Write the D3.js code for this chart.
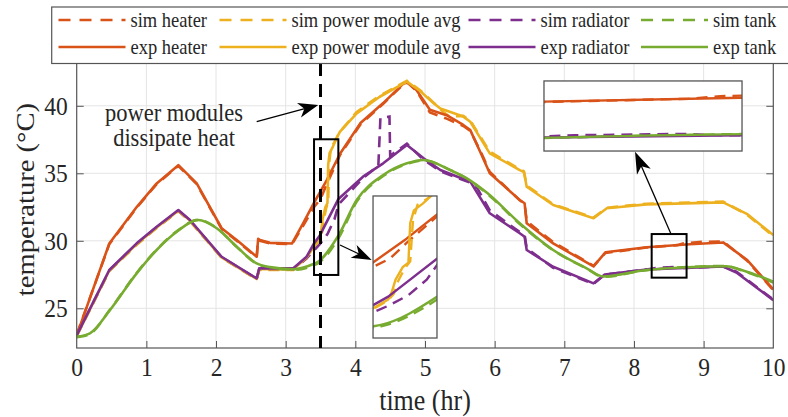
<!DOCTYPE html>
<html><head><meta charset="utf-8">
<script src="https://cdn.jsdelivr.net/npm/d3@7"></script>
<style>
body{margin:0;background:#fff}
svg{display:block}
text{font-family:"Liberation Serif","Times New Roman",serif;fill:#262626}
</style></head>
<body><svg id="c" width="788" height="417"></svg>
<script>
// ---------- data ----------
const xTickVals=[0,1,2,3,4,5,6,7,8,9,10];
const yTickVals=[25,30,35,40];
const xDomain=[0,10];
const yDomain=[22.06,43.17];
const legendLabels=["sim heater","sim power module avg","sim radiator","sim tank","exp heater","exp power module avg","exp radiator","exp tank"];
const seriesKeys=["heater","power","radiator","tank"];
const seriesColors=["#D95319","#EDB120","#7E2F8E","#77AC30"];

const expHeater=[[0,23.0],[0.468,29.8],[0.861,32.5],[1.148,34.25],[1.459,35.6],[1.723,34.25],[2.08,30.93],[2.297,30.06],[2.584,28.82],[2.605,30.15],[2.631,30.05],[2.775,29.85],[3.09,29.8],[3.25,31.3],[3.4,32.75],[3.59,34.5],[3.78,36.45],[4.07,38.7],[4.4,40.2],[4.69,41.64],[4.75,41.75],[4.88,41.15],[5.07,39.7],[5.31,39.3],[5.55,38.58],[5.65,38.2],[5.8,36.5],[5.93,35.0],[6.36,33.02],[6.43,32.78],[6.46,31.3],[6.84,29.81],[7.42,28.1],[7.59,29.15],[8.18,29.52],[8.8,29.74],[9.28,29.88],[9.62,28.6],[10,26.4]];
const expPower=[[0,22.95],[0.468,27.8],[0.861,29.76],[1.148,30.99],[1.459,32.23],[1.626,31.5],[2.08,28.77],[2.584,27.17],[2.62,27.9],[3.11,27.9],[3.3,28.76],[3.49,30.2],[3.51,30.75],[3.53,31.6],[3.57,32.5],[3.6,32.8],[3.61,35.6],[3.63,36.5],[3.68,37.0],[3.73,37.6],[3.78,38.08],[4.02,39.44],[4.35,40.67],[4.74,41.79],[4.93,41.1],[5.12,40.2],[5.22,39.8],[5.55,39.2],[5.65,38.82],[5.93,36.48],[6.36,35.24],[6.42,35.1],[6.46,34.0],[6.84,32.65],[7.42,31.67],[7.61,32.41],[8.18,32.7],[9.28,32.85],[9.62,32.0],[10,30.43]];
const expRadiator=[[0,23.0],[0.468,27.84],[0.861,29.81],[1.148,31.04],[1.459,32.28],[1.626,31.54],[2.08,28.82],[2.584,27.22],[2.62,27.96],[3.11,27.96],[3.3,28.82],[3.407,29.8],[3.49,30.4],[3.758,33.1],[4.11,34.75],[4.4,35.74],[4.74,37.1],[4.98,36.11],[5.22,35.24],[5.65,34.38],[5.93,32.04],[6.36,30.56],[6.43,30.3],[6.46,29.32],[6.84,28.08],[7.42,26.85],[7.58,27.5],[8.18,27.88],[9.28,28.1],[9.47,27.65],[10,25.6]];
const expTank=[[0,22.9],[0.19,23.15],[0.478,24.87],[0.861,27.59],[1.148,29.32],[1.436,30.67],[1.746,31.54],[2.01,30.93],[2.297,29.56],[2.584,28.33],[2.775,28.05],[3.11,27.89],[3.407,28.3],[3.45,28.4],[3.758,30.4],[4.02,33.02],[4.4,34.87],[4.74,35.74],[4.98,35.99],[5.36,35.24],[5.6,34.63],[5.89,33.56],[6.36,31.3],[6.84,29.32],[7.32,27.96],[7.56,27.36],[8.18,27.84],[9.33,28.12],[9.52,27.88],[10,26.97]];

const simHeater=[[0,23.05],[0.468,29.75],[0.861,32.45],[1.148,34.2],[1.459,35.55],[1.723,34.2],[2.08,30.9],[2.297,30.0],[2.584,28.78],[2.605,30.1],[2.631,30.0],[2.775,29.8],[3.09,29.75],[3.25,31.1],[3.4,32.45],[3.5,33.1],[3.59,34.2],[3.78,36.35],[4.07,38.6],[4.4,40.15],[4.69,41.6],[4.75,41.7],[4.88,41.1],[5.07,39.5],[5.31,39.05],[5.55,38.5],[5.65,38.15],[5.8,36.6],[5.93,35.1],[6.36,33.0],[6.43,32.75],[6.46,31.45],[6.84,29.9],[7.42,28.15],[7.59,29.1],[8.18,29.5],[8.62,29.68],[8.7,29.8],[9.0,29.93],[9.28,29.95],[9.62,28.55],[10,26.35]];
const simPower=[[0,22.95],[0.468,27.75],[0.861,29.7],[1.148,30.95],[1.459,32.2],[1.626,31.45],[2.08,28.75],[2.584,27.15],[2.62,27.85],[3.11,27.85],[3.3,28.7],[3.49,30.15],[3.52,30.6],[3.54,31.4],[3.58,32.4],[3.61,32.9],[3.625,35.8],[3.65,36.9],[3.7,37.3],[3.75,37.8],[3.8,38.2],[4.02,39.55],[4.35,40.75],[4.74,41.85],[4.93,41.15],[5.12,40.25],[5.25,39.6],[5.35,39.2],[5.55,39.25],[5.65,38.9],[5.93,36.6],[6.36,35.3],[6.42,35.15],[6.46,34.1],[6.84,32.7],[7.42,31.72],[7.61,32.45],[8.18,32.75],[9.28,32.9],[9.62,31.95],[10,30.35]];
const simRadiator=[[0,23.0],[0.468,27.8],[0.861,29.76],[1.148,31.0],[1.459,32.22],[1.626,31.5],[2.08,28.78],[2.584,27.18],[2.62,27.9],[3.11,27.9],[3.3,28.7],[3.49,29.75],[3.6,30.5],[3.7,31.6],[3.76,32.7],[4.11,34.65],[4.33,35.55],[4.36,39.1],[4.49,39.2],[4.5,36.3],[4.74,37.2],[4.98,36.0],[5.22,35.15],[5.65,34.3],[5.75,33.9],[5.93,32.25],[6.36,30.65],[6.43,30.45],[6.46,29.45],[6.84,28.0],[7.42,26.8],[7.58,27.5],[8.18,27.88],[8.33,28.0],[8.6,28.06],[8.72,27.99],[9.28,28.1],[9.47,27.72],[10,25.65]];
const simTank=[[0,22.85],[0.19,23.1],[0.478,24.9],[0.861,27.62],[1.148,29.35],[1.436,30.7],[1.746,31.55],[2.01,30.95],[2.297,29.55],[2.584,28.3],[2.775,28.0],[3.11,27.85],[3.407,28.2],[3.45,28.3],[3.758,30.2],[4.02,32.9],[4.4,34.8],[4.74,35.7],[4.98,35.95],[5.36,35.25],[5.6,34.6],[5.89,33.5],[6.36,31.25],[6.84,29.3],[7.32,27.95],[7.56,27.33],[8.18,27.83],[9.33,28.13],[9.52,27.86],[10,26.9]];

// annotation geometry (data units)
const markerTime=3.5;
const zoomRegions=[{x:[3.407,3.756],y:[27.47,37.52]},{x:[8.254,8.755],y:[27.27,30.5]}];
const insetBoxes=[{x:[4.254,5.172],y:[22.8,33.32]},{x:[6.708,9.551],y:[36.65,41.84]}];
const arrows=[{from:[2.584,38.82],to:[3.468,40.06]},{from:[3.78,29.69],to:[4.235,28.58]},{from:[8.527,30.56],to:[8.015,36.6]}];
const noteLines=["power modules","dissipate heat"];
const noteAnchor=[1.397,38.89];

// ---------- drawing ----------
const svg=d3.select("#c");
const P={l:76.7,r:773.3,t:63,b:348};
const x=d3.scaleLinear().domain(xDomain).range([P.l,P.r]);
const y=d3.scaleLinear().domain(yDomain).range([P.b,P.t]);
const VS=1.1; // vertical glyph stretch seen in the reference

const defs=svg.append("defs");
defs.append("clipPath").attr("id","clipMain").append("rect")
  .attr("x",P.l).attr("y",P.t).attr("width",P.r-P.l).attr("height",P.b-P.t);

// grid
const grid=svg.append("g").attr("stroke","#e4e4e4").attr("stroke-width",1);
grid.selectAll(".gx").data(xTickVals.slice(1,-1)).join("line")
  .attr("x1",d=>x(d)).attr("x2",d=>x(d)).attr("y1",P.t).attr("y2",P.b);
grid.selectAll(".gy").data(yTickVals).join("line")
  .attr("x1",P.l).attr("x2",P.r).attr("y1",d=>y(d)).attr("y2",d=>y(d));

const series=[
  {sim:simHeater,exp:expHeater,curve:d3.curveLinear},
  {sim:simPower,exp:expPower,curve:d3.curveLinear},
  {sim:simRadiator,exp:expRadiator,curve:d3.curveLinear},
  {sim:simTank,exp:expTank,curve:d3.curveMonotoneX}
];
function drawSeries(g,sx,sy,w){
  series.forEach((s,i)=>{
    g.append("path").datum(s.sim)
     .attr("d",d3.line().x(d=>sx(d[0])).y(d=>sy(d[1])).curve(s.curve))
     .attr("fill","none").attr("stroke",seriesColors[i]).attr("stroke-width",w)
     .attr("stroke-dasharray","11,7");
  });
  series.forEach((s,i)=>{
    g.append("path").datum(s.exp)
     .attr("d",d3.line().x(d=>sx(d[0])).y(d=>sy(d[1])).curve(s.curve))
     .attr("fill","none").attr("stroke",seriesColors[i]).attr("stroke-width",w)
     .attr("stroke-linejoin","round");
  });
}
drawSeries(svg.append("g").attr("clip-path","url(#clipMain)"),x,y,2.6);

// axes
const fsTick=23.5;
const ax=svg.append("g").attr("transform",`translate(0,${P.b})`)
  .call(d3.axisBottom(x).tickValues(xTickVals).tickSize(-7).tickPadding(10));
const ay=svg.append("g").attr("transform",`translate(${P.l},0)`)
  .call(d3.axisLeft(y).tickValues(yTickVals).tickSize(-7).tickPadding(9));
const ar=svg.append("g").attr("transform",`translate(${P.r},0)`)
  .call(d3.axisRight(y).tickValues(yTickVals).tickSize(-7).tickFormat(""));
[ax,ay,ar].forEach(a=>{
  a.select(".domain").remove();
  a.selectAll("line").attr("stroke","#555").attr("stroke-width",1);
  a.selectAll("text").attr("font-family",'"Liberation Serif",serif').attr("font-size",fsTick).attr("fill","#262626");
});
ax.selectAll("text").attr("y",0).attr("dy",null)
  .attr("transform",`translate(0,${10+0.7*fsTick*VS}) scale(1,${VS})`);
ay.selectAll("text").attr("transform",`scale(1,${VS})`);
ax.selectAll(".tick").filter(d=>d===0||d===10).select("line").remove();
svg.append("rect").attr("x",P.l).attr("y",P.t).attr("width",P.r-P.l).attr("height",P.b-P.t)
  .attr("fill","none").attr("stroke","#555").attr("stroke-width",1.2);

svg.append("text").attr("transform",`translate(${(P.l+P.r)/2},410) scale(1,${VS})`).attr("text-anchor","middle")
  .attr("font-size",26).text("time (hr)");
svg.append("text").attr("transform",`translate(34,${(P.t+P.b)/2-6}) rotate(-90) scale(${VS},1)`)
  .attr("text-anchor","middle").attr("font-size",26).text("temperature (°C)");

// vertical marker
svg.append("line").attr("x1",x(markerTime)).attr("x2",x(markerTime)).attr("y1",P.t).attr("y2",P.b)
  .attr("stroke","#000").attr("stroke-width",3).attr("stroke-dasharray","13,8");

// zoom rectangles
zoomRegions.forEach(z=>{
  svg.append("rect").attr("x",x(z.x[0])).attr("y",y(z.y[1]))
    .attr("width",x(z.x[1])-x(z.x[0])).attr("height",y(z.y[0])-y(z.y[1]))
    .attr("fill","none").attr("stroke","#000").attr("stroke-width",2);
});

// insets
insetBoxes.forEach((b,i)=>{
  const z=zoomRegions[i];
  const bx0=x(b.x[0]),bx1=x(b.x[1]),by0=y(b.y[1]),by1=y(b.y[0]);
  const sx=d3.scaleLinear().domain(z.x).range([bx0,bx1]);
  const sy=d3.scaleLinear().domain(z.y).range([by1,by0]);
  defs.append("clipPath").attr("id","clipInset"+i).append("rect")
    .attr("x",bx0).attr("y",by0).attr("width",bx1-bx0).attr("height",by1-by0);
  svg.append("rect").attr("x",bx0).attr("y",by0).attr("width",bx1-bx0).attr("height",by1-by0).attr("fill","#fff");
  drawSeries(svg.append("g").attr("clip-path",`url(#clipInset${i})`),sx,sy,2.4);
  svg.append("rect").attr("x",bx0).attr("y",by0).attr("width",bx1-bx0).attr("height",by1-by0)
    .attr("fill","none").attr("stroke","#555").attr("stroke-width",1.3);
});

// arrows
function arrow(a,L,Wd){
  const x1=x(a.from[0]),y1=y(a.from[1]),x2=x(a.to[0]),y2=y(a.to[1]);
  const ang=Math.atan2(y2-y1,x2-x1);
  const bx=x2-L*Math.cos(ang),by=y2-L*Math.sin(ang);
  svg.append("line").attr("x1",x1).attr("y1",y1).attr("x2",bx+0.3*L*Math.cos(ang)).attr("y2",by+0.3*L*Math.sin(ang))
    .attr("stroke","#000").attr("stroke-width",1.3);
  const px=-Math.sin(ang),py=Math.cos(ang);
  const nx=x2-0.72*L*Math.cos(ang),ny=y2-0.72*L*Math.sin(ang);
  const pts=[[x2,y2],[bx+px*Wd/2,by+py*Wd/2],[nx,ny],[bx-px*Wd/2,by-py*Wd/2]];
  svg.append("path").attr("d","M"+pts.map(p=>p.join(",")).join("L")+"Z").attr("fill","#000");
}
arrow(arrows[0],20,15);
arrow(arrows[1],20,14);
arrow(arrows[2],22,15);

// annotation text
noteLines.forEach((t,i)=>{
  svg.append("text").attr("transform",`translate(${x(noteAnchor[0])},${y(noteAnchor[1])+i*25.6}) scale(1,${VS})`)
    .attr("text-anchor","middle").attr("font-size",22.5).text(t);
});

// legend
const lg=svg.append("g");
lg.append("rect").attr("x",51.7).attr("y",7).attr("width",760).attr("height",56.5)
  .attr("fill","#fff").attr("stroke","#555").attr("stroke-width",1.2);
const colX=[58.5,219.5,468.5,641];
const rowY=[20,47];
legendLabels.forEach((lab,i)=>{
  const r=Math.floor(i/4),c=i%4;
  const x0=colX[c],yy=rowY[r];
  lg.append("line").attr("x1",x0).attr("x2",x0+67).attr("y1",yy).attr("y2",yy)
    .attr("stroke",seriesColors[c]).attr("stroke-width",2.6)
    .attr("stroke-dasharray",r===0?"12,9":null);
  lg.append("text").attr("transform",`translate(${x0+72},${yy+6.5}) scale(1,${VS})`).attr("font-size",18.5).text(lab);
});
</script></body></html>
